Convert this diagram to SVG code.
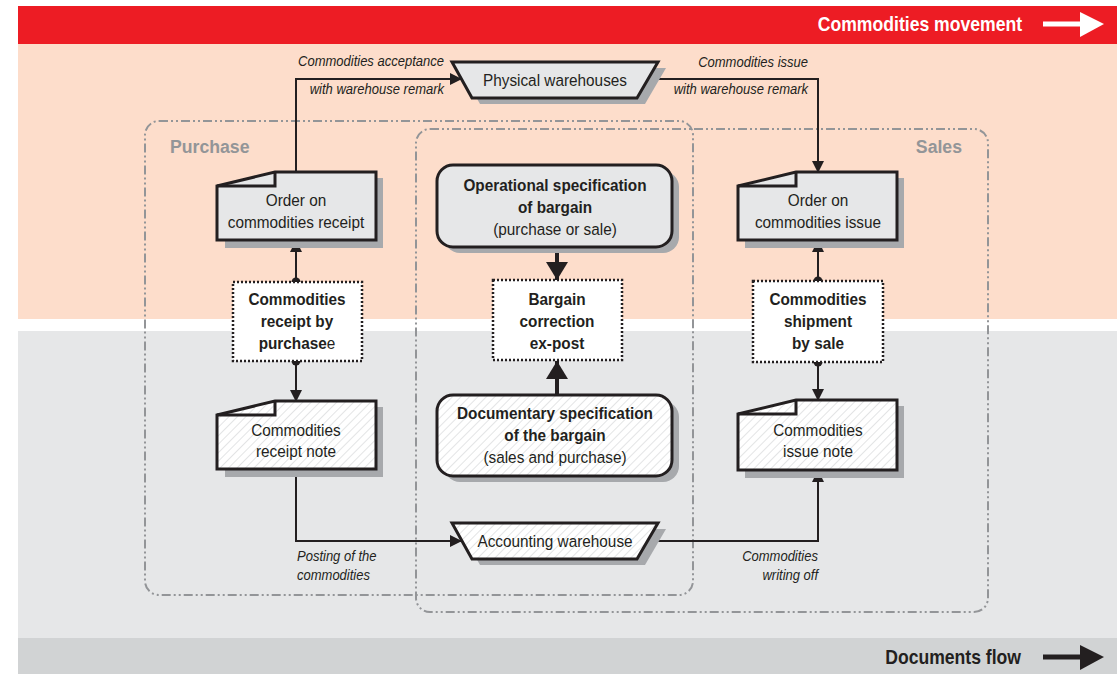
<svg xmlns="http://www.w3.org/2000/svg" width="1120" height="674" viewBox="0 0 1120 674">
<defs>
<style>
text{transform-box:fill-box}
.t{font-family:"Liberation Sans",Arial,sans-serif;font-size:16.5px;fill:#231F20;text-anchor:middle;transform-origin:center;transform:scaleX(0.93)}
.b{font-weight:bold}
.lab{font-family:"Liberation Sans",Arial,sans-serif;font-size:14px;font-style:italic;fill:#231F20;transform:scaleX(0.93)}
.ls{transform-origin:left center}
.le{text-anchor:end;transform-origin:right center}
.grp{fill:none;stroke:#939598;stroke-width:2;stroke-dasharray:9 3 2 3 2 3}
.gl{font-family:"Liberation Sans",Arial,sans-serif;font-size:19px;font-weight:bold;fill:#939598;transform:scaleX(0.93)}
.hd{font-family:"Liberation Sans",Arial,sans-serif;font-size:20px;font-weight:bold;text-anchor:end;transform-origin:right center;transform:scaleX(0.88)}
.sh{fill:#A7A9AC}
.ol{stroke:#231F20;stroke-width:3;stroke-linejoin:miter}
.g{fill:#E6E7E8}
.h{fill:url(#hatch)}
.dot{fill:#fff;stroke:#231F20;stroke-width:2.5;stroke-dasharray:2 2}
.c{fill:none;stroke:#231F20;stroke-width:2}
.cb{fill:none;stroke:#231F20;stroke-width:4}
</style>
<pattern id="hatch" patternUnits="userSpaceOnUse" width="6" height="6" patternTransform="rotate(45)">
<rect width="6" height="6" fill="#fff"/>
<line x1="0" y1="0" x2="0" y2="6" stroke="#D1D3D4" stroke-width="1.2"/>
</pattern>
<marker id="ar" markerWidth="12" markerHeight="12" refX="11" refY="6" orient="auto" markerUnits="userSpaceOnUse">
<path d="M0,0 L12,6 L0,12 Z" fill="#231F20"/>
</marker>
<marker id="arb" markerWidth="22" markerHeight="22" refX="18" refY="11" orient="auto" markerUnits="userSpaceOnUse">
<path d="M0,0 L18,11 L0,22 Z" fill="#231F20"/>
</marker>
</defs>

<g id="background">
<rect x="18" y="6" width="1099" height="38" fill="#ED1C24"/>
<rect x="18" y="44" width="1099" height="275" fill="#FDDDCB"/>
<rect x="18" y="331" width="1099" height="307" fill="#E6E7E8"/>
<rect x="18" y="638" width="1099" height="36" fill="#D1D3D4"/>
<text class="hd" x="1022" y="31" fill="#fff">Commodities movement</text>
<path d="M1043,24 H1085" stroke="#fff" stroke-width="5"/>
<path d="M1080,12 L1104,24 L1080,37 Z" fill="#fff"/>
<text class="hd" x="1021" y="664" fill="#231F20">Documents flow</text>
<path d="M1043,657 H1085" stroke="#231F20" stroke-width="5"/>
<path d="M1080,645 L1104,657 L1080,670 Z" fill="#231F20"/>
</g>

<g id="group-purchase">
<rect class="grp" x="145" y="121" width="548" height="474" rx="14"/>
<text class="gl ls" x="170" y="153">Purchase</text>
</g>
<g id="group-sales">
<rect class="grp" x="416" y="129" width="572" height="483" rx="14"/>
<text class="gl le" x="962" y="153">Sales</text>
</g>

<g id="connectors">
<path class="c" d="M296,172 V79 H461" marker-end="url(#ar)"/>
<path class="c" d="M648,79 H818 V172" marker-end="url(#ar)"/>
<path class="c" d="M296,282 V241" marker-end="url(#ar)"/>
<circle cx="296" cy="282" r="4.5" fill="#231F20"/>
<path class="c" d="M296,361 V401" marker-end="url(#ar)"/>
<circle cx="296" cy="361" r="4.5" fill="#231F20"/>
<path class="c" d="M818,281 V241" marker-end="url(#ar)"/>
<circle cx="818" cy="281" r="4.5" fill="#231F20"/>
<path class="c" d="M818,362 V400" marker-end="url(#ar)"/>
<circle cx="818" cy="362" r="4.5" fill="#231F20"/>
<path class="c" d="M296,469 V541 H461" marker-end="url(#ar)"/>
<path class="c" d="M648,541 H818 V471" marker-end="url(#ar)"/>
<path class="cb" d="M557,247 V280" marker-end="url(#arb)"/>
<path class="cb" d="M557,395 V361" marker-end="url(#arb)"/>
</g>

<g id="labels">
<text class="lab le" x="444" y="66">Commodities acceptance</text>
<text class="lab le" x="444" y="94">with warehouse remark</text>
<text class="lab le" x="808" y="67">Commodities issue</text>
<text class="lab le" x="808" y="94">with warehouse remark</text>
<text class="lab ls" x="297" y="561">Posting of the</text>
<text class="lab ls" x="297" y="580">commodities</text>
<text class="lab le" x="818" y="561">Commodities</text>
<text class="lab le" x="818" y="580">writing off</text>
</g>

<g id="physical-warehouses">
<path class="sh" d="M460,68 H666 L645,104 H480 Z"/>
<path class="g ol" d="M452,62 H658 L637,98 H472 Z"/>
<text class="t" x="555" y="86">Physical warehouses</text>
</g>

<g id="accounting-warehouse">
<path class="sh" d="M460,529 H666 L645,565 H480 Z"/>
<path class="h ol" d="M452,523 H658 L637,559 H472 Z"/>
<text class="t" x="555" y="547">Accounting warehouse</text>
</g>

<g id="order-receipt">
<path class="sh" d="M283,178 H383 V248 H225 V192 Z"/>
<path class="g ol" d="M275,172 H376 V240 H217 V186 Z"/>
<path class="ol" fill="none" d="M217,186 H275 V172"/>
<text class="t" x="296" y="206">Order on</text>
<text class="t" x="296" y="228">commodities receipt</text>
</g>

<g id="receipt-purchase">
<rect class="dot" x="233" y="282" width="129" height="79"/>
<text class="t b" x="297" y="305">Commodities</text>
<text class="t b" x="297" y="327">receipt by</text>
<text class="t" x="297" y="349"><tspan font-weight="bold">purchase</tspan>e</text>
</g>

<g id="receipt-note">
<path class="sh" d="M283,407 H383 V477 H225 V421 Z"/>
<path class="h ol" d="M275,401 H376 V469 H217 V415 Z"/>
<path class="ol" fill="none" d="M217,415 H275 V401"/>
<text class="t" x="296" y="436">Commodities</text>
<text class="t" x="296" y="457">receipt note</text>
</g>

<g id="operational-spec">
<rect class="sh" x="444" y="171" width="235" height="82" rx="16"/>
<rect class="g ol" x="437" y="165" width="235" height="82" rx="16"/>
<text class="t b" x="555" y="191">Operational specification</text>
<text class="t b" x="555" y="213">of bargain</text>
<text class="t" x="555" y="235">(purchase or sale)</text>
</g>

<g id="bargain-correction">
<rect class="dot" x="493" y="280" width="129" height="80"/>
<text class="t b" x="557" y="305">Bargain</text>
<text class="t b" x="557" y="327">correction</text>
<text class="t b" x="557" y="349">ex-post</text>
</g>

<g id="documentary-spec">
<rect class="sh" x="444" y="401" width="235" height="81" rx="16"/>
<rect class="h ol" x="437" y="395" width="235" height="81" rx="16"/>
<text class="t b" x="555" y="419">Documentary specification</text>
<text class="t b" x="555" y="441">of the bargain</text>
<text class="t" x="555" y="463">(sales and purchase)</text>
</g>

<g id="order-issue">
<path class="sh" d="M804,178 H904 V248 H745 V192 Z"/>
<path class="g ol" d="M796,172 H897 V240 H738 V186 Z"/>
<path class="ol" fill="none" d="M738,186 H796 V172"/>
<text class="t" x="818" y="206">Order on</text>
<text class="t" x="818" y="228">commodities issue</text>
</g>

<g id="shipment-sale">
<rect class="dot" x="753" y="281" width="130" height="81"/>
<text class="t b" x="818" y="305">Commodities</text>
<text class="t b" x="818" y="327">shipment</text>
<text class="t b" x="818" y="349">by sale</text>
</g>

<g id="issue-note">
<path class="sh" d="M804,406 H904 V478 H745 V420 Z"/>
<path class="h ol" d="M796,400 H897 V470 H738 V414 Z"/>
<path class="ol" fill="none" d="M738,414 H796 V400"/>
<text class="t" x="818" y="436">Commodities</text>
<text class="t" x="818" y="457">issue note</text>
</g>
</svg>
